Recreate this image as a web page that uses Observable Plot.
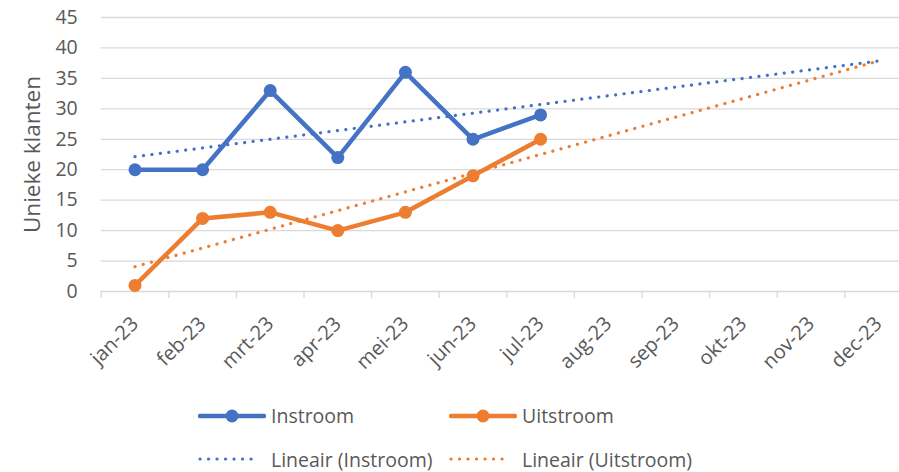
<!DOCTYPE html>
<html><head><meta charset="utf-8">
<script src="https://cdn.jsdelivr.net/npm/d3@7"></script>
<script src="https://cdn.jsdelivr.net/npm/@observablehq/plot@0.6"></script>
<style>
body{margin:0;background:#fff;font-family:"Open Sans",sans-serif;}
#wrap{position:relative;width:899px;height:472px;overflow:hidden;}
#legend{position:absolute;left:0;top:380px;width:899px;height:92px;}
.item{position:absolute;height:30px;display:flex;align-items:center;font-size:19.5px;color:#595959;white-space:nowrap;}
.item svg{display:block;}
</style></head><body>
<div id="wrap"><div id="chart"></div><div id="legend"></div></div>
<script>
// ---- data ----
const months = ["jan-23","feb-23","mrt-23","apr-23","mei-23","jun-23","jul-23","aug-23","sep-23","okt-23","nov-23","dec-23"];
const instroom = [20, 20, 33, 22, 36, 25, 29];
const uitstroom = [1, 12, 13, 10, 13, 19, 25];
const yTicks = [0, 5, 10, 15, 20, 25, 30, 35, 40, 45];
const seriesNames = ["Instroom", "Uitstroom"];
const trendNames = ["Lineair (Instroom)", "Lineair (Uitstroom)"];
const colors = ["#4472C4", "#ED7D31"];
const yTitle = "Unieke klanten";

// ---- helpers ----
const toPoints = vals => vals.map((v, i) => ({x: i, y: v}));
// least-squares linear trend over the observed months, extended to the last month
function linTrend(vals) {
  const mx = d3.mean(vals, (v, i) => i), my = d3.mean(vals);
  const sxy = d3.sum(vals, (v, i) => (i - mx) * (v - my));
  const sxx = d3.sum(vals, (v, i) => (i - mx) * (i - mx));
  const b = sxy / sxx, a = my - b * mx;
  return [0, months.length - 1].map(x => ({x, y: a + b * x}));
}
const boundaries = months.map((m, i) => i - 0.5).concat([months.length - 0.5]);
const series = [instroom, uitstroom];

const textColor = "#595959";
const marks = [
  Plot.ruleY(yTicks, {stroke: "#d9d9d9", strokeWidth: 1.3}),
  Plot.axisX({ticks: boundaries, tickSize: 7, tickFormat: () => "", stroke: "#d9d9d9", strokeWidth: 1.3, label: null}),
  Plot.text(yTicks, {frameAnchor: "left", y: d => d, text: d => String(d), textAnchor: "end", dx: -23.5, fontSize: 19.5, fill: textColor}),
  Plot.text(months, {x: (d, i) => i, y: () => 0, text: d => d, rotate: -45, textAnchor: "end", dy: 29, fontSize: 20, fill: textColor}),
  Plot.text([yTitle], {frameAnchor: "left", text: d => d, rotate: -90, textAnchor: "middle", dx: -68, fontSize: 22.5, fill: textColor})
];
series.forEach((vals, k) => {
  marks.push(Plot.line(toPoints(vals), {x: "x", y: "y", stroke: colors[k], strokeWidth: 4.5, strokeLinejoin: "round"}));
  marks.push(Plot.dot(toPoints(vals), {x: "x", y: "y", r: 6.5, fill: colors[k], stroke: "none"}));
});
series.forEach((vals, k) => {
  marks.push(Plot.line(linTrend(vals), {x: "x", y: "y", stroke: colors[k], strokeWidth: 3.2, strokeDasharray: "0.1 8.4", strokeLinecap: "round"}));
});

const chart = Plot.plot({
  width: 899, height: 380,
  marginLeft: 100.7, marginRight: -12.9, marginTop: 17, marginBottom: 89,
  x: {type: "linear", domain: [-0.5, months.length - 0.5], axis: null},
  y: {domain: [0, 45], axis: null},
  style: {fontFamily: "'Open Sans', sans-serif", background: "#fff", overflow: "visible"},
  marks
});
document.getElementById("chart").appendChild(chart);

// ---- legend (HTML below the SVG) ----
const legend = document.getElementById("legend");
const rows = [
  {names: seriesNames, kind: "line", cy: 35.7},
  {names: trendNames, kind: "trend", cy: 79}
];
const cols = [{sx: 198, tx: 271}, {sx: 449, tx: 522}];
rows.forEach(row => {
  row.names.forEach((name, k) => {
    const col = cols[k];
    const sw = document.createElement("div");
    sw.className = "item";
    sw.style.left = col.sx + "px";
    sw.style.top = (row.cy - 15) + "px";
    if (row.kind === "line") {
      sw.innerHTML = `<svg width="68" height="30"><line x1="2" x2="66" y1="15" y2="15" stroke="${colors[k]}" stroke-width="4.5" stroke-linecap="round"/><circle cx="34" cy="15" r="6.5" fill="${colors[k]}"/></svg>`;
    } else {
      sw.innerHTML = `<svg width="62" height="30"><line x1="2" x2="60" y1="15" y2="15" stroke="${colors[k]}" stroke-width="3.2" stroke-dasharray="0.1 8.4" stroke-linecap="round"/></svg>`;
    }
    legend.appendChild(sw);
    const t = document.createElement("div");
    t.className = "item";
    t.style.left = col.tx + "px";
    t.style.top = (row.cy - 15) + "px";
    t.textContent = name;
    legend.appendChild(t);
  });
});
</script>
</body></html>
